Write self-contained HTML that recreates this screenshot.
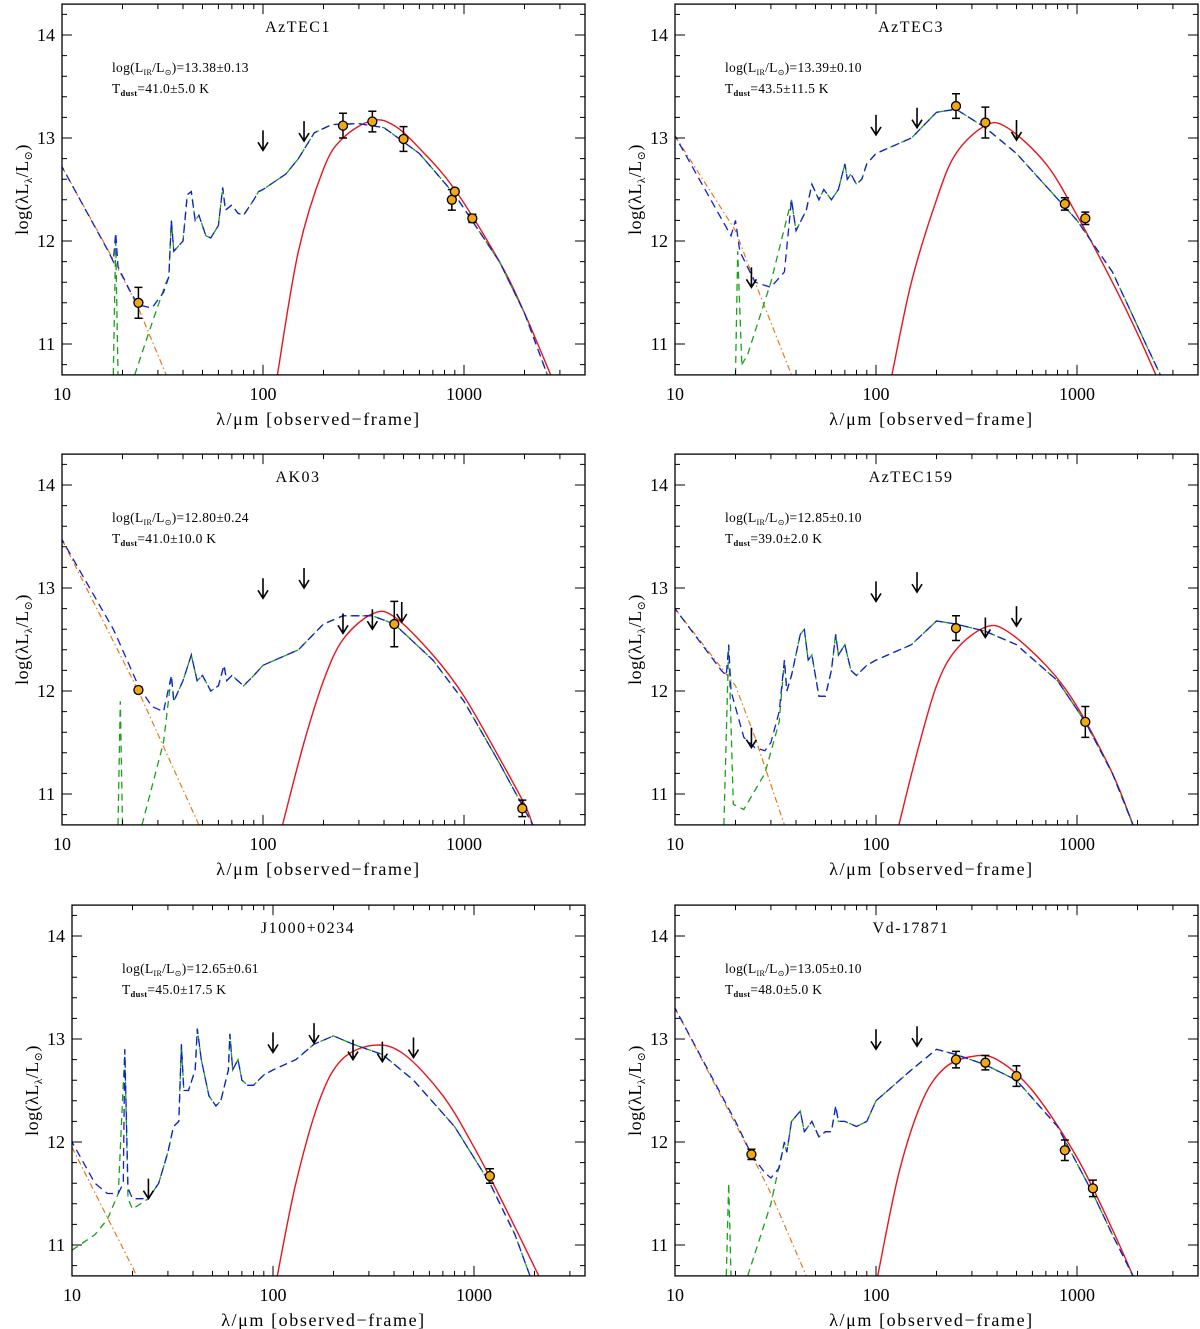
<!DOCTYPE html>
<html><head><meta charset="utf-8"><style>
body{margin:0;background:#fff;}
svg{display:block;font-family:"Liberation Serif","DejaVu Serif",serif;}
</style></head><body>
<svg id="fig" width="1200" height="1329" viewBox="0 0 1200 1329"></svg>
<script>
// ---------- data ----------
const panelNames = ["AzTEC1","AzTEC3","AK03","AzTEC159","J1000+0234","Vd-17871"];
const lirText = ["13.38±0.13","13.39±0.10","12.80±0.24","12.85±0.10","12.65±0.61","13.05±0.10"];
const tdustText = ["41.0±5.0","43.5±11.5","41.0±10.0","39.0±2.0","45.0±17.5","48.0±5.0"];
const xTickLabels = ["10","100","1000"];
const yTickLabels = ["11","12","13","14"];

const orange1=[[10,12.72],[18,11.82],[24,11.35],[33,10.7]];
const blue1=[[10,12.72],[17,11.9],[18,11.8],[18.5,12.08],[19,11.75],[22,11.5],[24,11.38],[28,11.35],[32,11.5],[34,11.65],[35,12.2],[36,11.9],[40,12.0],[42,12.45],[44,12.48],[46,12.2],[48,12.25],[52,12.05],[55,12.03],[60,12.15],[63,12.52],[65,12.3],[70,12.35],[75,12.27],[80,12.25],[90,12.4],[95,12.48],[100,12.5],[130,12.65],[150,12.8],[180,13.05],[220,13.13],[300,13.14],[400,13.1],[600,12.85],[900,12.45],[1500,11.8],[2000,11.3],[2600,10.7]];
const greenA1=[[18,10.7],[18.5,12.0],[19,10.7]];
const greenB1=[[23,10.7],[28,11.2],[33,11.6],[34,11.65],[35,12.2],[36,11.9],[40,12.0]];
const red1=[[118,10.7],[150,11.9],[200,12.7],[250,13.0],[350,13.17],[450,13.12],[600,12.9],[900,12.5],[1500,11.8],[2000,11.3],[2700,10.7]];
const pts1=[[24,11.4,0.15],[250,13.12,0.12],[350,13.16,0.1],[500,12.99,0.12],[870,12.4,0.1],[900,12.48,0.01],[1100,12.22,0.04]];
const lim1=[[100,12.88],[160,12.97]];

const orange2=[[10,13.02],[20,12.1],[25,11.6],[38,10.7]];
const blue2=[[10,13.02],[19,12.05],[20,12.2],[21,11.9],[25,11.6],[30,11.55],[35,11.7],[38,12.4],[40,12.1],[45,12.3],[48,12.55],[52,12.4],[55,12.5],[60,12.4],[65,12.5],[70,12.75],[72,12.6],[75,12.65],[80,12.55],[85,12.6],[90,12.75],[100,12.85],[150,13.0],[200,13.25],[250,13.28],[350,13.1],[500,12.85],[1000,12.2],[1500,11.7],[2200,11.0],[2600,10.7]];
const greenA2=[[20,10.7],[20.5,11.9],[21.5,10.8]];
const greenB2=[[21.5,10.8],[23,10.9],[30,11.6],[38,12.4],[40,12.1],[45,12.3]];
const red2=[[120,10.7],[150,11.6],[200,12.4],[250,12.85],[350,13.12],[450,13.1],[700,12.75],[1000,12.25],[1500,11.6],[2000,11.1],[2600,10.6]];
const pts2=[[250,13.31,0.12],[350,13.15,0.15],[870,12.36,0.06],[1100,12.22,0.06]];
const lim2=[[24,11.55],[100,13.03],[160,13.1],[500,12.98]];

const orange3=[[10,13.47],[24,12.0],[48,10.7]];
const blue3=[[10,13.47],[18,12.6],[19,12.5],[20,12.4],[24,12.05],[28,11.85],[32,11.8],[35,12.15],[36,11.9],[40,12.1],[44,12.35],[47,12.1],[50,12.15],[55,12.0],[60,12.05],[64,12.25],[66,12.1],[70,12.15],[80,12.05],[90,12.15],[100,12.25],[150,12.4],[200,12.65],[250,12.73],[350,12.73],[450,12.65],[700,12.3],[1000,11.9],[1500,11.3],[2000,10.85],[2200,10.7]];
const greenA3=[[19,10.7],[19.5,11.9],[20,10.7]];
const greenB3=[[25,10.7],[32,11.5],[35,12.15],[36,11.9],[40,12.1]];
const red3=[[125,10.7],[160,11.5],[200,12.1],[250,12.5],[350,12.75],[450,12.72],[700,12.35],[1000,11.95],[1500,11.35],[2000,10.9],[2200,10.7]];
const pts3=[[24,12.01,0.03],[450,12.65,0.22],[1950,10.86,0.08]];
const lim3=[[100,12.9],[160,13.0],[250,12.56],[350,12.6],[490,12.67]];

const orange4=[[10,12.8],[20,12.05],[25,11.55],[35,10.7]];
const blue4=[[10,12.8],[17,12.2],[18,12.15],[18.5,12.45],[19,12.0],[22,11.55],[25,11.45],[28,11.42],[30,11.5],[33,11.8],[35,12.3],[36,12.0],[38,12.15],[42,12.55],[44,12.6],[46,12.3],[48,12.35],[52,11.95],[56,11.95],[60,12.2],[63,12.55],[65,12.35],[70,12.45],[75,12.2],[80,12.15],[90,12.25],[100,12.3],[150,12.45],[200,12.68],[250,12.65],[350,12.58],[500,12.45],[800,12.1],[1100,11.7],[1500,11.2],[1900,10.7]];
const greenA4=[[17.5,10.7],[18.5,12.45],[19.5,10.9],[22,10.85],[28,11.2],[33,11.7],[35,12.3],[36,12.0]];
const greenB4=[[36,12.0],[38,12.15]];
const red4=[[130,10.7],[160,11.4],[200,12.05],[250,12.4],[350,12.62],[450,12.58],[700,12.25],[1000,11.85],[1500,11.2],[1900,10.7]];
const pts4=[[250,12.61,0.12],[1100,11.7,0.15]];
const lim4=[[24,11.45],[100,12.87],[160,12.96],[350,12.52],[500,12.63]];

const orange5=[[10,11.95],[21,10.7]];
const blue5=[[10,12.0],[13,11.6],[15,11.5],[17,11.5],[18,11.6],[18.3,12.9],[19,11.55],[20,11.45],[22,11.45],[24,11.45],[27,11.6],[30,11.9],[32,12.15],[34,12.2],[35,12.95],[36,12.5],[38,12.5],[41,12.7],[42,13.1],[44,12.8],[48,12.45],[52,12.35],[55,12.4],[60,12.7],[61,13.05],[63,12.7],[67,12.8],[70,12.6],[75,12.55],[80,12.55],[90,12.65],[100,12.7],[130,12.8],[160,12.95],[200,13.03],[250,12.95],[350,12.85],[500,12.6],[800,12.15],[1200,11.6],[1600,11.1],[1900,10.7]];
const greenA5=[[10,10.95],[13,11.1],[15,11.25],[17,11.5],[18.3,12.9],[19,11.45],[20,11.35],[24,11.45],[27,11.6]];
const greenB5=[[27,11.6],[30,11.9]];
const red5=[[105,10.7],[130,11.6],[170,12.4],[220,12.8],[320,12.94],[450,12.85],[700,12.45],[1000,11.95],[1400,11.4],[2100,10.7]];
const pts5=[[1200,11.67,0.07]];
const lim5=[[24,11.45],[100,12.87],[160,12.96],[250,12.8],[350,12.78],[500,12.82]];

const orange6=[[10,13.3],[24,11.88],[30,11.5],[45,10.7]];
const blue6=[[10,13.3],[20,12.2],[24,11.88],[28,11.7],[30,11.65],[33,11.75],[35,12.0],[36,11.9],[38,12.2],[42,12.3],[44,12.1],[48,12.2],[52,12.05],[56,12.1],[60,12.1],[63,12.35],[65,12.2],[70,12.2],[80,12.15],[90,12.2],[100,12.4],[150,12.7],[200,12.9],[250,12.85],[350,12.75],[500,12.6],[800,12.15],[1200,11.5],[1500,11.1],[1900,10.7]];
const greenA6=[[18,10.7],[18.5,11.6],[19,10.7]];
const greenB6=[[23,10.7],[30,11.4],[35,12.0],[36,11.9],[38,12.2]];
const red6=[[102,10.7],[130,11.7],[170,12.4],[220,12.72],[300,12.83],[400,12.8],[600,12.5],[1000,11.85],[1500,11.15],[1900,10.7]];
const pts6=[[24,11.88,0.05],[250,12.8,0.08],[350,12.77,0.07],[500,12.64,0.1],[870,11.92,0.1],[1200,11.55,0.08]];
const lim6=[[100,12.9],[160,12.93]];

// ---------- layout ----------
const frames=[[62,585,35],[675,1198,35],[62,585,485],[675,1198,485],[72,585,936],[675,1198,936]]; // x0,x1,y of 14
const series=[[orange1,blue1,greenA1,greenB1,red1,pts1,lim1],[orange2,blue2,greenA2,greenB2,red2,pts2,lim2],[orange3,blue3,greenA3,greenB3,red3,pts3,lim3],[orange4,blue4,greenA4,greenB4,red4,pts4,lim4],[orange5,blue5,greenA5,greenB5,red5,pts5,lim5],[orange6,blue6,greenA6,greenB6,red6,pts6,lim6]];
const NS="http://www.w3.org/2000/svg";
const svg=document.getElementById('fig');
function mk(tag,attrs,parent){const e=document.createElementNS(NS,tag);for(const k in attrs)e.setAttribute(k,attrs[k]);parent.appendChild(e);return e;}
const DEC=201, UNIT=103;

frames.forEach((f,i)=>{
  const [x0,x1,y14]=f;
  const top=y14-0.3*UNIT, bot=y14+3.3*UNIT;
  const X=l=>x0+DEC*Math.log10(l/10);
  const Y=v=>y14+(14-v)*UNIT;
  const g=mk('g',{},svg);
  
  
  const cid='clip'+i;
  const cp=mk('clipPath',{id:cid},g);mk('rect',{x:x0,y:top,width:x1-x0,height:bot-top},cp);
  const plot=mk('g',{'clip-path':'url(#'+cid+')'},g);
  const [or,bl,gA,gB,rd,pts,lims]=series[i];
  const path=(arr)=>arr.map((p,k)=>(k?'L':'M')+X(p[0]).toFixed(1)+' '+Y(p[1]).toFixed(1)).join(' ');
  const smooth=(arr)=>{
    const P=arr.map(p=>[X(p[0]),Y(p[1])]);
    let d='M'+P[0][0].toFixed(1)+' '+P[0][1].toFixed(1);
    for(let k=0;k<P.length-1;k++){
      const p0=P[Math.max(k-1,0)],p1=P[k],p2=P[k+1],p3=P[Math.min(k+2,P.length-1)];
      const c1=[p1[0]+(p2[0]-p0[0])/6,p1[1]+(p2[1]-p0[1])/6];
      const c2=[p2[0]-(p3[0]-p1[0])/6,p2[1]-(p3[1]-p1[1])/6];
      d+=`C${c1[0].toFixed(1)} ${c1[1].toFixed(1)} ${c2[0].toFixed(1)} ${c2[1].toFixed(1)} ${p2[0].toFixed(1)} ${p2[1].toFixed(1)}`;
    }
    return d;
  };
  let e;
  e=mk('path',{d:smooth(rd),fill:'none',stroke:'#e8141c','stroke-width':1.4},plot);
  
  
  e=mk('path',{d:path(or),fill:'none',stroke:'#e87818','stroke-width':1.2,'stroke-dasharray':'6 3 1.5 3'},plot);
  
  
  const blIdx=bl.findIndex(p=>p[0]>=gB[gB.length-1][0]);
  const greenMain=gB.concat(bl.slice(blIdx+1));
  [gA,greenMain].forEach(arr=>{
    e=mk('path',{d:path(arr),fill:'none',stroke:'#1aa01a','stroke-width':1.3,'stroke-dasharray':'7 5'},plot);
    
    
  });
  e=mk('path',{d:path(bl),fill:'none',stroke:'#1020d0','stroke-width':1.3,'stroke-dasharray':'8 5','stroke-dashoffset':'4'},plot);
  
  
  lims.forEach(p=>{
    const x=X(p[0]),y=Y(p[1]);
    e=mk('path',{d:`M${x} ${y-20} L${x} ${y} M${x-5} ${y-8} L${x} ${y} L${x+5} ${y-8}`,fill:'none',stroke:'#000','stroke-width':1.6},plot);
    
    
  });
  pts.forEach(p=>{
    const x=X(p[0]),y=Y(p[1]),ya=Y(p[1]+p[2]),yb=Y(p[1]-p[2]);
    e=mk('path',{d:`M${x} ${ya} L${x} ${yb} M${x-4} ${ya} L${x+4} ${ya} M${x-4} ${yb} L${x+4} ${yb}`,stroke:'#000','stroke-width':1.5,fill:'none'},plot);
    
    
    e=mk('circle',{cx:x,cy:y,r:4.5,fill:'#f0a818',stroke:'#000','stroke-width':1.3},plot);
    
    
  });
  // frame
  e=mk('rect',{x:x0,y:top,width:x1-x0,height:bot-top,fill:'none',stroke:'#000','stroke-width':1.3},g);
  
  
  let t='';
  for(let d=1;d<=1000;d*=10)for(let m=1;m<10;m++){const l=10*d*m;const x=X(l);if(x>x1)break;const len=m==1?10:5;t+=`M${x} ${bot}L${x} ${bot-len}M${x} ${top}L${x} ${top+len}`;}
  for(let v=10.8;v<=14.3;v+=0.2){const y=Y(v);const maj=Math.abs(v-Math.round(v))<0.01;const len=maj?10:5;t+=`M${x0} ${y}L${x0+len} ${y}M${x1} ${y}L${x1-len} ${y}`;}
  e=mk('path',{d:t,stroke:'#000','stroke-width':1,fill:'none'},g);
  
  
  xTickLabels.forEach(s=>{
    e=mk('text',{x:X(+s),y:bot+25,'font-size':18,'text-anchor':'middle'},g);e.textContent=s;
    
    
  });
  yTickLabels.forEach(s=>{
    e=mk('text',{x:x0-7,y:Y(+s)+6,'font-size':18,'text-anchor':'end'},g);e.textContent=s;
    
    
  });
  e=mk('text',{x:(x0+x1)/2-5,y:bot+50,'font-size':18,'text-anchor':'middle','letter-spacing':'1.6'},g);
  e.textContent='λ/μm [observed−frame]';
  
  
  const yc=(top+bot)/2, yx=x0-34;
  e=mk('text',{x:yx,y:yc,'font-size':18,'text-anchor':'middle','letter-spacing':'0.5',transform:`rotate(-90 ${yx} ${yc})`},g);
  e.innerHTML='log(λL<tspan font-size="11" dy="4">λ</tspan><tspan dy="-4">/L</tspan><tspan font-size="11" dy="4">⊙</tspan><tspan dy="-4">)</tspan>';
  
  
  e=mk('text',{x:x0+236,y:top+28,'font-size':16,'text-anchor':'middle','letter-spacing':'1.5'},g);
  e.textContent=panelNames[i];
  
  
  e=mk('text',{x:x0+50,y:top+68,'font-size':13.5,'font-family':'Liberation Serif, serif','letter-spacing':'0.3'},g);
  e.innerHTML='log(L<tspan font-size="8" dy="3">IR</tspan><tspan dy="-3">/L</tspan><tspan font-size="8" dy="3">⊙</tspan><tspan dy="-3">)='+lirText[i]+'</tspan>';
  
  
  e=mk('text',{x:x0+50,y:top+89,'font-size':13.5,'font-family':'Liberation Serif, serif','letter-spacing':'0.3'},g);
  e.innerHTML='T<tspan font-size="8.5" font-weight="bold" dy="3">dust</tspan><tspan dy="-3">='+tdustText[i]+'  K</tspan>';
  
  
});
</script>
</body></html>
